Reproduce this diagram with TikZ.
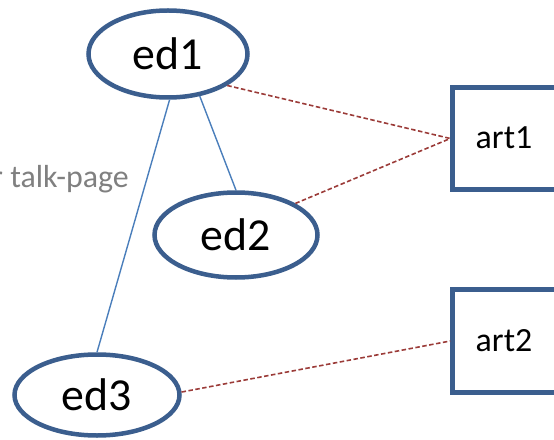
\documentclass[tikz,border=0pt]{standalone}
\usepackage{fontspec}
\setmainfont{Carlito}
\usetikzlibrary{shapes.geometric}
\definecolor{edgeblue}{HTML}{3B5E8E}
\definecolor{lineblue}{HTML}{4A7EBB}
\definecolor{dashred}{HTML}{9B3B38}
\definecolor{txtgray}{HTML}{808080}
\tikzset{
  ednode/.style={ellipse, draw=edgeblue, line width=4.5bp, inner sep=0pt, fill=white,
    font=\fontsize{46}{50}\selectfont},
  artnode/.style={rectangle, draw=edgeblue, line width=4.5bp, inner sep=0pt, fill=white},
  artlabel/.style={inner sep=0pt, font=\fontsize{34}{38}\selectfont},
  talkline/.style={draw=lineblue, line width=1.4bp},
  artline/.style={draw=dashred, line width=1.6bp, dash pattern=on 4.5bp off 2.5bp},
}
\begin{document}
\begin{tikzpicture}[x=1bp,y=-1bp]
\useasboundingbox (0,0) rectangle (554,440);
\clip (0,0) rectangle (554,440);
\node[anchor=east, text=txtgray, font=\fontsize{32}{35}\selectfont, inner sep=0pt] (talk) at (129,179) {r talk-page};
\node[ednode, minimum width=159bp, minimum height=87bp] (ed1) at (168,54) {ed1};
\node[ednode, minimum width=163bp, minimum height=85bp] (ed2) at (236,235) {ed2};
\node[ednode, minimum width=165bp, minimum height=81bp] (ed3) at (97,395) {ed3};
\node[artnode, minimum width=110bp, minimum height=102bp] (art1box) at (507.5,138.5) {};
\node[artlabel] (art1) at (504,138) {art1};
\node[artnode, minimum width=110bp, minimum height=103bp] (art2box) at (507.5,341) {};
\node[artlabel] (art2) at (504,341) {art2};
\draw[talkline] (ed1.272) -- (ed3.north);
\draw[talkline] (ed1.307) -- (ed2.north);
\draw[artline] (ed1.332) -- (art1box.west);
\draw[artline] (ed2.28) -- (art1box.west);
\draw[artline] (ed3.2) -- (art2box.west);
\end{tikzpicture}
\end{document}
